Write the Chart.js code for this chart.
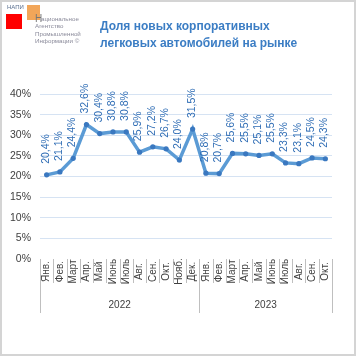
<!DOCTYPE html>
<html><head><meta charset="utf-8">
<script src="https://cdn.jsdelivr.net/npm/chart.js@4"></script>
<style>
html,body{margin:0;padding:0;background:#fff;}
#wrap{position:relative;width:356px;height:356px;overflow:hidden;font-family:"Liberation Sans",Arial,sans-serif;}
#frame{position:absolute;left:0;top:0;width:352px;height:352px;border:2px solid #d4d4d4;pointer-events:none;}
canvas{position:absolute;left:0;top:0;}
.t{position:absolute;white-space:nowrap;}
</style></head>
<body>
<div id="wrap">
<canvas id="c" width="356" height="356"></canvas>
<div class="t" style="left:6px;top:14px;width:16px;height:15px;background:#ff0000;"></div>
<div class="t" style="left:27px;top:5px;width:13px;height:15px;background:rgba(240,150,60,0.85);"></div>
<div class="t" style="left:7px;top:4px;font-size:6px;color:#5a7090;">НАПИ</div>
<div class="t" style="left:35px;top:13px;font-size:10px;color:#777;">Н</div>
<div class="t" style="left:41px;top:15px;font-size:6.2px;color:#8a8a9a;line-height:7.5px;">ациональное</div>
<div class="t" style="left:35px;top:22px;font-size:6.2px;color:#8a8a9a;line-height:7.5px;">Агентство<br>Промышленной<br>Информации ©</div>
<div class="t" style="left:100px;top:18px;font-size:12px;font-weight:bold;color:#3b7dc4;line-height:17px;">Доля новых корпоративных<br>легковых автомобилей на рынке</div>
<div id="frame"></div>
</div>
<script>
const months = ["Янв.","Фев.","Март","Апр.","Май","Июнь","Июль","Авг.","Сен.","Окт.","Нояб.","Дек.","Янв.","Фев.","Март","Апр.","Май","Июнь","Июль","Авг.","Сен.","Окт."];
const years = ["2022","2023"];
const yearCounts = [12, 10];
const shareValues = [20.4,21.1,24.4,32.6,30.4,30.8,30.8,25.9,27.2,26.7,24.0,31.5,20.8,20.7,25.6,25.5,25.1,25.5,23.3,23.1,24.5,24.3];
const yTicks = [0,5,10,15,20,25,30,35,40];

const fontFam = '"Liberation Sans", Arial, sans-serif';

const labelPlugin = {
  id: 'vlabels',
  afterDatasetsDraw(chart) {
    const ctx = chart.ctx;
    const meta = chart.getDatasetMeta(0);
    ctx.save();
    ctx.fillStyle = '#2f6db5';
    ctx.font = '10.5px ' + fontFam;
    ctx.textAlign = 'left';
    ctx.textBaseline = 'middle';
    meta.data.forEach((pt, i) => {
      const txt = shareValues[i].toFixed(1).replace('.', ',') + '%';
      ctx.save();
      ctx.translate(pt.x - 1, pt.y - 11);
      ctx.rotate(-Math.PI / 2);
      ctx.fillText(txt, 0, 0);
      ctx.restore();
    });
    ctx.restore();
  }
};

const axisPlugin = {
  id: 'multiAxis',
  afterDraw(chart) {
    const ctx = chart.ctx;
    const xs = chart.scales.x;
    const top = chart.chartArea.bottom;
    const monthBottom = top + 24;
    const yearBottom = top + 54;
    const half = (xs.getPixelForValue(1) - xs.getPixelForValue(0)) / 2;
    ctx.save();
    ctx.strokeStyle = '#bfbfbf';
    ctx.lineWidth = 1;
    const yearStarts = [0];
    yearCounts.forEach((c, k) => yearStarts.push(yearStarts[k] + c));
    for (let i = 0; i <= months.length; i++) {
      const x = Math.round((i < months.length ? xs.getPixelForValue(i) - half : xs.getPixelForValue(months.length - 1) + half)) + 0.5;
      const isYear = yearStarts.includes(i);
      ctx.beginPath();
      ctx.moveTo(x, top);
      ctx.lineTo(x, isYear ? yearBottom : monthBottom);
      ctx.stroke();
    }
    ctx.fillStyle = '#404040';
    ctx.font = '10px ' + fontFam;
    ctx.textAlign = 'center';
    ctx.textBaseline = 'middle';
    months.forEach((m, i) => {
      ctx.save();
      ctx.translate(xs.getPixelForValue(i), top + 12.5);
      ctx.rotate(-Math.PI / 2);
      ctx.fillText(m, 0, 0);
      ctx.restore();
    });
    years.forEach((y, k) => {
      const a = xs.getPixelForValue(yearStarts[k]) - half;
      const b = xs.getPixelForValue(yearStarts[k + 1] - 1) + half;
      ctx.fillText(y, (a + b) / 2, top + 46);
    });
    ctx.restore();
  }
};

new Chart(document.getElementById('c'), {
  type: 'line',
  data: {
    labels: months,
    datasets: [{
      data: shareValues,
      borderColor: '#5b9bd5',
      borderWidth: 3.5,
      pointRadius: 2.6,
      pointBackgroundColor: '#3a78c0',
      pointBorderWidth: 0,
      tension: 0,
      fill: false
    }]
  },
  options: {
    responsive: false,
    animation: false,
    devicePixelRatio: 1,
    layout: { padding: { left: 0, right: 24, top: 94, bottom: 97 } },
    plugins: { legend: { display: false }, tooltip: { enabled: false } },
    scales: {
      x: { type: 'category', display: false, offset: true },
      y: {
        min: 0, max: 40,
        afterFit(scale) { scale.width = 40; },
        afterBuildTicks(scale) { scale.ticks = yTicks.map(v => ({ value: v })); },
        border: { display: false },
        grid: {
          drawTicks: false,
          color: ctx => ctx.tick && ctx.tick.value === 0 ? 'rgba(0,0,0,0)' : '#d6e3f3',
          lineWidth: 1
        },
        ticks: {
          padding: 9,
          color: '#404040',
          font: { size: 10.5, family: fontFam },
          callback: v => v + '%'
        }
      }
    }
  },
  plugins: [labelPlugin, axisPlugin]
});
</script>
</body></html>
